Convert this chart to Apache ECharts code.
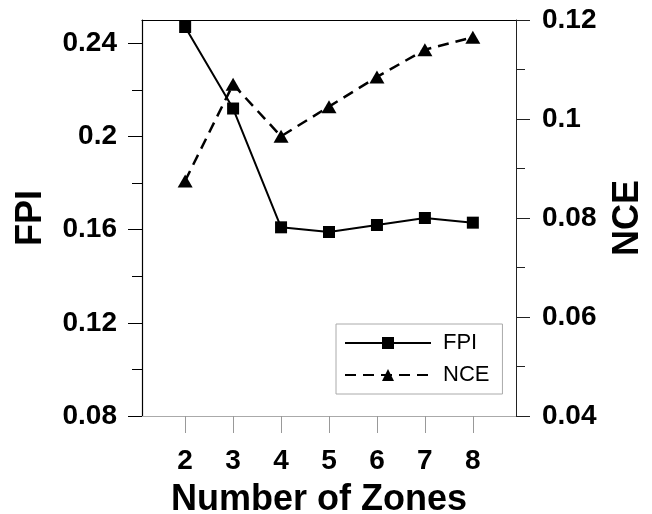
<!DOCTYPE html>
<html>
<head>
<meta charset="utf-8">
<script src="https://cdn.jsdelivr.net/npm/echarts@6/dist/echarts.min.js"></script>
<style>
  html, body { margin: 0; padding: 0; background: #fff; }
  #chart { width: 652px; height: 514px; }
</style>
</head>
<body>
<div id="chart"></div>
<script>
// data
var zones = [2, 3, 4, 5, 6, 7, 8];
var fpi = [0.247, 0.212, 0.161, 0.159, 0.162, 0.165, 0.163];
var nce = [0.0875, 0.107, 0.0965, 0.1025, 0.1085, 0.114, 0.1165];
var fpiTicks = [0.08, 0.12, 0.16, 0.2, 0.24];
var fpiMinor = [0.10, 0.14, 0.18, 0.22];

var font = '"Liberation Sans", Arial, sans-serif';

function pairs( ys ) {
    return zones.map( function( z, i ) { return [ z, ys[ i ] ]; } );
}

var myChart = echarts.init( document.getElementById( 'chart' ) ),
    option = {
        animation: false,
        backgroundColor: '#fff',
        grid: {
            left: 142,
            right: 136,
            top: 20,
            bottom: 98,
            outerBoundsMode: 'none'
        },
        legend: {
            left: 336,
            top: 324,
            orient: 'vertical',
            itemWidth: 86,
            itemHeight: 15,
            itemGap: 10,
            padding: [ 8, 13, 8, 8 ],
            borderColor: '#aaa',
            borderWidth: 1,
            textStyle: {
                fontFamily: font,
                fontSize: 22,
                color: '#000',
                padding: [ 0, 0, 0, 7 ]
            },
            data: [ 'FPI', 'NCE' ]
        },
        xAxis: [
            {
                type: 'value',
                min: 1.1,
                max: 8.9,
                name: 'Number of Zones',
                nameLocation: 'middle',
                nameGap: 66,
                nameTextStyle: {
                    fontFamily: font,
                    fontSize: 36,
                    fontWeight: 'bold',
                    color: '#000',
                    padding: [ 0, 20, 0, 0 ]
                },
                axisLine: { lineStyle: { color: '#aaa', width: 1 } },
                axisTick: {
                    customValues: zones,
                    length: 17,
                    lineStyle: { color: '#999' }
                },
                axisLabel: {
                    customValues: zones,
                    fontFamily: font,
                    fontSize: 28,
                    fontWeight: 'bold',
                    color: '#000',
                    margin: 31
                },
                splitLine: { show: false }
            },
            {
                // top border of the frame
                type: 'value',
                position: 'top',
                min: 1.1,
                max: 8.9,
                axisLine: { lineStyle: { color: '#000', width: 1.2 } },
                axisTick: { show: false },
                axisLabel: { show: false },
                splitLine: { show: false }
            }
        ],
        yAxis: [
            {
                type: 'value',
                position: 'left',
                min: 0.08,
                max: 0.25,
                name: 'FPI',
                nameLocation: 'middle',
                nameRotate: 90,
                nameGap: 93,
                nameTextStyle: {
                    fontFamily: font,
                    fontSize: 36,
                    fontWeight: 'bold',
                    color: '#000'
                },
                axisLine: { show: true, lineStyle: { color: '#000', width: 1.2 } },
                axisTick: {
                    customValues: fpiTicks,
                    length: 14,
                    lineStyle: { color: '#000' }
                },
                axisLabel: {
                    customValues: fpiTicks,
                    fontFamily: font,
                    fontSize: 28,
                    fontWeight: 'bold',
                    color: '#000',
                    margin: 25
                },
                splitLine: { show: false }
            },
            {
                type: 'value',
                position: 'right',
                min: 0.04,
                max: 0.12,
                interval: 0.02,
                name: 'NCE',
                nameLocation: 'middle',
                nameRotate: 90,
                nameGap: 94,
                nameTextStyle: {
                    fontFamily: font,
                    fontSize: 36,
                    fontWeight: 'bold',
                    color: '#000'
                },
                axisLine: { show: true, lineStyle: { color: '#222', width: 1 } },
                axisTick: { length: 14, lineStyle: { color: '#222' } },
                minorTick: {
                    show: true,
                    splitNumber: 2,
                    length: 9,
                    lineStyle: { color: '#222' }
                },
                axisLabel: {
                    fontFamily: font,
                    fontSize: 28,
                    fontWeight: 'bold',
                    color: '#000',
                    margin: 26
                },
                splitLine: { show: false },
                minorSplitLine: { show: false }
            },
            {
                // minor ticks on the FPI axis
                type: 'value',
                position: 'left',
                min: 0.08,
                max: 0.25,
                axisLine: { show: false },
                axisTick: {
                    customValues: fpiMinor,
                    length: 10,
                    lineStyle: { color: '#000' }
                },
                axisLabel: { show: false },
                splitLine: { show: false }
            }
        ],
        series: [
            {
                name: 'FPI',
                type: 'line',
                xAxisIndex: 0,
                yAxisIndex: 0,
                symbol: 'rect',
                symbolSize: 12,
                lineStyle: { color: '#000', width: 2 },
                itemStyle: { color: '#000' },
                data: pairs( fpi )
            },
            {
                name: 'NCE',
                type: 'line',
                xAxisIndex: 0,
                yAxisIndex: 1,
                symbol: 'triangle',
                symbolSize: [ 15, 13 ],
                lineStyle: { color: '#000', width: 2.5, type: [ 11, 7 ] },
                itemStyle: { color: '#000' },
                data: pairs( nce )
            }
        ]
    };

myChart.setOption( option );
</script>
</body>
</html>
